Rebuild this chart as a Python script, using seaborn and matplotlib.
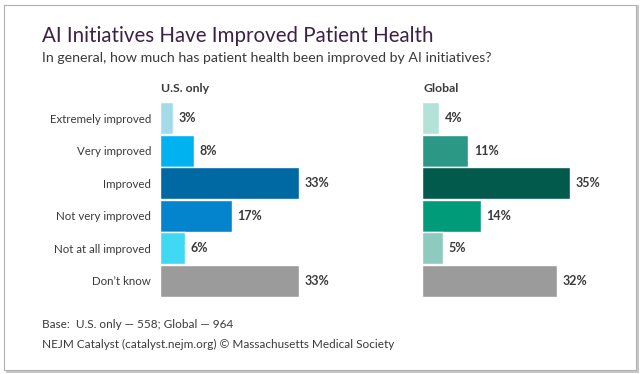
import matplotlib
matplotlib.use("Agg")
import matplotlib.pyplot as plt
import pandas as pd
import seaborn as sns
from matplotlib.patches import Rectangle

# Data
categories = ["Extremely improved", "Very improved", "Improved",
              "Not very improved", "Not at all improved", "Don\u2019t know"]
us_values = [3, 8, 33, 17, 6, 33]
global_values = [4, 11, 35, 14, 5, 32]

us_colors = ["#a3dbe8", "#00b3f0", "#0068a3", "#0384cc", "#3fd9f3", "#9b9b9b"]
global_colors = ["#b4e2d9", "#2a9885", "#025a4c", "#009b79", "#8ccbbe", "#9b9b9b"]

sns.set_theme(style="white")
plt.rcParams["font.family"] = ["Lato", "DejaVu Sans"]

W, H = 643, 374
fig = plt.figure(figsize=(W / 100, H / 100), dpi=100)
fig.patch.set_facecolor("white")

# card with a soft shadow
fig.add_artist(Rectangle((6 / W, 1 - 373 / H), 633 / W, 368 / H,
                         transform=fig.transFigure, facecolor="#c8c8c8",
                         edgecolor="none", zorder=0))
fig.add_artist(Rectangle((4 / W, 1 - 370 / H), 632 / W, 365 / H,
                         transform=fig.transFigure, facecolor="white",
                         edgecolor="#b0b0b0", linewidth=0.8, zorder=0))

text_dark = "#3a3a3a"
fig.text(42 / W, 1 - 36 / H, "AI Initiatives Have Improved Patient Health",
         fontsize=14.8, color="#3d2148", va="center", ha="left")
fig.text(42 / W, 1 - 58 / H,
         "In general, how much has patient health been improved by AI initiatives?",
         fontsize=10.15, color=text_dark, va="center", ha="left")

panel_w = 40 * 4.22 / W
bottom = 1 - 297 / H
height = 195 / H
panels = [
    (160, "U.S. only", us_values, us_colors, True),
    (422, "Global", global_values, global_colors, False),
]

for left, name, values, colors, show_labels in panels:
    ax = fig.add_axes([left / W, bottom, panel_w, height])
    df = pd.DataFrame({"category": categories, "value": values})
    sns.barplot(data=df, y="category", x="value", hue="category",
                palette=colors, orient="h", width=0.985, legend=False,
                saturation=1, ax=ax)
    ax.set_xlim(0, 40)
    ax.set_ylim(5.5, -0.5)
    ax.set_xlabel("")
    ax.set_ylabel("")
    ax.set_xticks([])
    sns.despine(ax=ax, left=True, bottom=True)
    ax.tick_params(axis="y", length=0, pad=6.5, labelsize=8.3, colors=text_dark)
    if not show_labels:
        ax.set_yticklabels([])
    for container in ax.containers:
        ax.bar_label(container, fmt="%g%%", padding=4, fontsize=9,
                     fontweight="bold", color=text_dark)
    fig.text((left + 1) / W, 1 - 89 / H, name, fontsize=8.8,
             fontweight="bold", color=text_dark, va="center", ha="left")

fig.text(42 / W, 1 - 325 / H, "Base:  U.S. only \u2014 558; Global \u2014 964",
         fontsize=8.5, color=text_dark, va="center", ha="left")
fig.text(42 / W, 1 - 344 / H,
         "NEJM Catalyst (catalyst.nejm.org) \u00a9 Massachusetts Medical Society",
         fontsize=8.5, color=text_dark, va="center", ha="left")

fig.savefig("out.png", dpi=100, facecolor="white")
